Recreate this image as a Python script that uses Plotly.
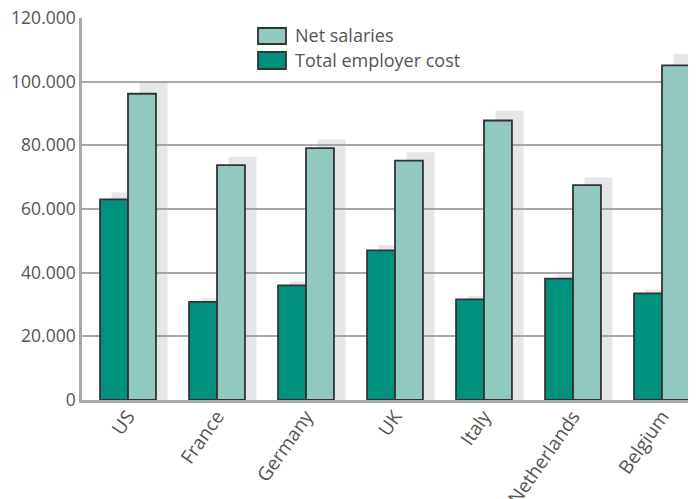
import plotly.graph_objects as go

countries = ["US", "France", "Germany", "UK", "Italy", "Netherlands", "Belgium"]
total_employer_cost = [63000, 30800, 36000, 47000, 31600, 38100, 33500]
net_salaries = [96200, 73800, 79100, 75200, 87800, 67500, 105100]
y_tick_values = [0, 20000, 40000, 60000, 80000, 100000, 120000]

DARK = "#00917d"
LIGHT = "#91c9c0"
SHADOW = "rgba(150,155,165,0.25)"
OUTLINE = "#333333"
GRID = "#a8a8ab"
TEXT = "#555555"
FONT = "Open Sans"

W = 0.314      # bar width in category units
SH = 0.13      # shadow horizontal shift in category units

fig = go.Figure()

# drop shadows (on main axes, drawn underneath)
fig.add_trace(go.Bar(x=countries, y=total_employer_cost, width=W, offset=-W + SH,
                     marker=dict(color=SHADOW, line=dict(width=0)),
                     showlegend=False, hoverinfo="skip", xaxis="x", yaxis="y"))
fig.add_trace(go.Bar(x=countries, y=net_salaries, width=W, offset=SH,
                     marker=dict(color=SHADOW, line=dict(width=0)),
                     showlegend=False, hoverinfo="skip", xaxis="x", yaxis="y"))

# real bars (overlay axis, drawn on top)
fig.add_trace(go.Bar(x=countries, y=total_employer_cost, width=W, offset=-W,
                     name="Total employer cost",
                     marker=dict(color=DARK, line=dict(color=OUTLINE, width=1.8)),
                     showlegend=False, xaxis="x", yaxis="y2"))
fig.add_trace(go.Bar(x=countries, y=net_salaries, width=W, offset=0,
                     name="Net salaries",
                     marker=dict(color=LIGHT, line=dict(color=OUTLINE, width=1.8)),
                     showlegend=False, xaxis="x", yaxis="y2"))

# page body has an 8px default margin: figure sized/offset to compensate
OFF = 8
FW, FH = 696 - OFF, 499 - OFF
L, R, T = 82 - OFF, 0, 18 - OFF
B = FH - (400 - OFF)
PW, PH = FW - L - R, FH - T - B

def px(x):
    return (x - OFF - L) / PW

def py(y):
    return (T + PH - (y - OFF)) / PH

shapes = [
    dict(type="rect", xref="paper", yref="paper", x0=px(258), x1=px(286), y0=py(44), y1=py(28),
         fillcolor=LIGHT, line=dict(color=OUTLINE, width=1.8)),
    dict(type="rect", xref="paper", yref="paper", x0=px(258), x1=px(286), y0=py(69), y1=py(52),
         fillcolor=DARK, line=dict(color=OUTLINE, width=1.8)),
]
annotations = [
    dict(text="Net salaries", xref="paper", yref="paper", x=px(293), y=py(35.5),
         xanchor="left", yanchor="middle", showarrow=False, font=dict(size=18, color=TEXT, family=FONT)),
    dict(text="Total employer cost", xref="paper", yref="paper", x=px(293), y=py(60),
         xanchor="left", yanchor="middle", showarrow=False, font=dict(size=18, color=TEXT, family=FONT)),
]

fig.update_layout(
    width=FW, height=FH,
    margin=dict(l=L, r=R, t=T, b=B),
    paper_bgcolor="white", plot_bgcolor="white",
    barmode="overlay",
    separators=",.",
    showlegend=False,
    font=dict(family=FONT, size=18, color=TEXT),
    xaxis=dict(range=[-0.517, 6.382], tickangle=-55, showline=True, linecolor=GRID, linewidth=2.5,
               showgrid=False, ticks="", ticklen=0, ticklabelstandoff=-5,
               tickfont=dict(size=19, color=TEXT), automargin=False,
               ticklabeloverflow="allow", fixedrange=True),
    yaxis=dict(range=[0, 120000 / 1.035], visible=False, showgrid=False, automargin=False),
    yaxis2=dict(range=[0, 120000], overlaying="y", side="left", anchor="x",
                tickvals=y_tick_values, tickformat=",d", showgrid=True, gridcolor=GRID, gridwidth=2,
                showline=True, linecolor=GRID, linewidth=2.5, ticks="", ticklen=0, ticklabelstandoff=0,
                ticklabeloverflow="allow",
                zeroline=False, automargin=False, tickfont=dict(size=17.5, color=TEXT)),
    shapes=shapes,
    annotations=annotations,
)

fig.write_html("out.html")
